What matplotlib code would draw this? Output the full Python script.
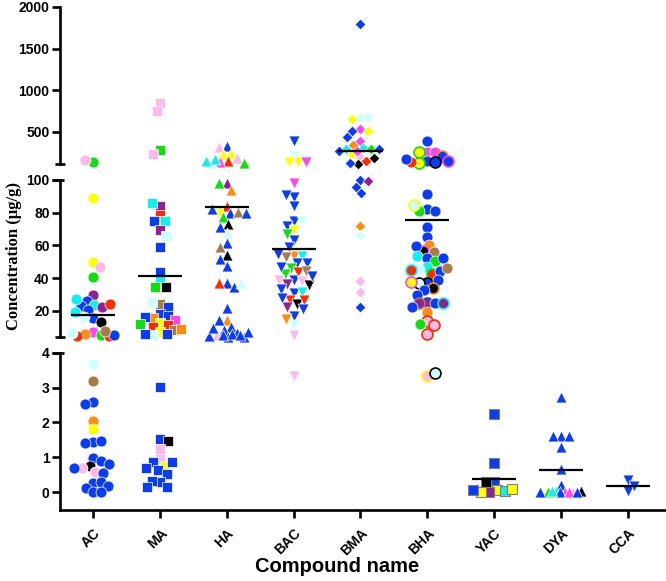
import matplotlib
matplotlib.use('Agg')
import matplotlib.pyplot as plt
from matplotlib.lines import Line2D

W, H = 666, 581
categories = ['AC', 'MA', 'HA', 'BAC', 'BMA', 'BHA', 'YAC', 'DYA', 'CCA']
markers = ['o', 's', '^', 'v', 'D', 'o', 's', '^', 'v']

palette = {'B': '#0A3CF5', 'P': '#FFB8EC', 'M': '#FF45F2', 'G': '#0DE00D',
           'Y': '#FFFF00', 'O': '#FF8C0A', 'N': '#A97B48', 'U': '#8E2290',
           'K': '#000000', 'R': '#FF2A00', 'C': '#10F0F0', 'L': '#CCFFFF'}

ac_values = [141, 165, 89.2, 50, 47, 40.5, 29.7, 26.2, 23.5, 22.3, 23, 24.2, 27, 20.5, 19.4,
             15.6, 13.3, 16.2, 7, 5.8, 5.2, 4.6, 4.8, 5.3, 6.3, 7.5,
             3.67, 3.2, 2.59, 2.53, 2.05, 1.8, 1.43, 1.40, 1.47, 0.97, 0.9, 0.76, 0.7, 0.58,
             0.82, 0.68, 0.55, 0.26, 0.29, 0.13, 0.17, 0.0, 0.0]
ac_colors = ['G', 'P', 'Y', 'Y', 'P', 'G', 'U', 'B', 'C', 'U', 'B', 'R', 'C', 'B', 'C',
             'B', 'K', 'L', 'M', 'O', 'G', 'R', 'R', 'B', 'L', 'N',
             'L', 'N', 'B', 'B', 'O', 'Y', 'B', 'B', 'B', 'B', 'B', 'K', 'P', 'P',
             'B', 'B', 'B', 'B', 'B', 'B', 'B', 'B', 'B']

ma_values = [840, 750, 282, 237, 84.3, 85.7, 78.6, 75.1, 74.7, 69.4, 66, 59.2, 43.9, 38.2,
             34.4, 34.4, 24.2, 25.6, 22.1, 18, 17, 15.4, 14.4, 16, 12.4, 11.3, 12, 10.3,
             8, 7.2, 5.2, 6, 9, 5.5,
             3.02, 1.51, 1.48, 1.25, 0.94, 0.85, 0.75, 0.85, 0.7, 0.63, 0.53, 0.28, 0.32,
             0.15, 0.15]
ma_colors = ['P', 'P', 'G', 'P', 'U', 'C', 'R', 'B', 'C', 'U', 'L', 'B', 'B', 'C',
             'K', 'G', 'N', 'L', 'B', 'B', 'B', 'O', 'M', 'B', 'Y', 'R', 'G', 'R',
             'N', 'Y', 'L', 'B', 'O', 'B',
             'B', 'B', 'K', 'P', 'P', 'B', 'Y', 'B', 'B', 'B', 'B', 'B', 'B', 'B', 'B']

ha_values = [332, 313, 250, 233, 185, 150, 140, 120, 130, 150, 170,
             98, 93.9, 98, 84.1, 81.7, 79.6, 77.2, 80.6, 82, 79.6, 73.1, 71, 67.4, 61.7,
             58.8, 54.1, 51.5, 47.4, 36.8, 34.4, 36.8, 36.8, 21.5, 14.4, 14, 10.3, 8.3,
             6.6, 5.2, 4.2, 4.0, 4.5, 5.2, 7.2, 9.3, 6, 5]
ha_colors = ['B', 'P', 'Y', 'Y', 'P', 'R', 'M', 'L', 'G', 'C', 'C',
             'U', 'O', 'G', 'R', 'Y', 'B', 'G', 'N', 'B', 'B', 'K', 'B', 'L', 'B',
             'N', 'K', 'B', 'B', 'B', 'B', 'R', 'L', 'B', 'O', 'B', 'B', 'B',
             'B', 'P', 'B', 'B', 'B', 'B', 'B', 'B', 'B', 'B']

bac_values = [392, 212, 132, 132, 140,
              98.4, 89.8, 90.8, 84.1, 75.1, 75.1, 71.9, 69.4, 67, 63.3, 59.2, 53.5, 52.7,
              53.5, 54.7, 49, 49.5, 46, 43.9, 42.5, 44.5, 38.8, 38.4, 39, 36.4, 35.8, 31.1,
              31.7, 26.6, 24.2, 26.6, 22.1, 20.9, 16.8, 14.8, 11.3, 5.2, 33, 28, 41, 47,
              3.33]
bac_colors = ['B', 'L', 'Y', 'Y', 'M',
              'M', 'B', 'B', 'B', 'B', 'L', 'B', 'Y', 'G', 'B', 'B', 'O', 'N',
              'C', 'B', 'B', 'B', 'G', 'R', 'G', 'N', 'B', 'P', 'P', 'U', 'K', 'B',
              'C', 'R', 'K', 'R', 'U', 'B', 'B', 'O', 'L', 'P', 'B', 'B', 'B', 'B',
              'P']

bma_values = [1792, 680, 680, 652, 528, 512, 512, 440, 392, 340, 300, 290, 290, 290, 270,
              212, 152, 112, 130, 184, 232, 270,
              100, 95.9, 99.4, 91.9, 72, 66.4, 38.4, 31.5, 22.3]
bma_colors = ['B', 'L', 'L', 'Y', 'M', 'B', 'Y', 'B', 'M', 'O', 'C', 'G', 'C', 'B', 'B',
              'P', 'R', 'K', 'B', 'K', 'Y', 'M',
              'B', 'B', 'U', 'B', 'O', 'L', 'P', 'P', 'B']

bha_values = [392, 260, 260, 252, 212, 150, 132, 120, 135, 150, 172,
              91.2, 82.5, 81, 81, 84.7, 71, 65, 60.2, 56.8, 56.1, 59.6, 53.4, 52.5, 50.6,
              52, 46.6, 45.5, 42.5, 44, 45, 46, 37.2, 37.2, 39, 37.4, 33.8, 32.7, 29.7,
              24.6, 24.8, 24.5, 24.5, 22, 19.5, 13.8, 11.3, 5.8, 11.7,
              3.34, 3.43]
bha_colors = ['B', 'M', 'M', 'Y', 'B', 'B', 'B', 'Y', 'R', 'B', 'B',
              'B', 'B', 'G', 'B', 'L', 'B', 'B', 'O', 'K', 'N', 'B', 'C', 'B', 'G',
              'B', 'C', 'L', 'R', 'B', 'R', 'N', 'B', 'L', 'B', 'Y', 'K', 'B', 'B',
              'U', 'B', 'U', 'U', 'B', 'O', 'P', 'P', 'P', 'G',
              'P', 'L']
bha_edges = ['w', 'w', 'w', 'G', 'O', 'w', 'K', 'G', 'w', 'M', 'w',
             'w', 'w', 'w', 'w', 'Y', 'w', 'w', 'w', 'M', 'w', 'w', 'w', 'w', 'w',
             'w', 'w', 'w', 'G', 'w', 'C', 'w', 'K', 'K', 'w', 'M', 'O', 'w', 'w',
             'B', 'w', 'N', 'C', 'w', 'w', 'R', 'R', 'R', 'w',
             'Y', 'K']

yac_values = [2.24, 0.84, 0.29, 0.29, 0.07, 0.0, 0.02, 0.0, 0.1, 0.05]
yac_colors = ['B', 'B', 'B', 'K', 'Y', 'U', 'C', 'Y', 'Y', 'B']

dya_values = [2.73, 1.6, 1.6, 1.62, 1.3, 0.65, 0.2, 0.02, 0.0, 0.01, 0.0, 0.02, 0.0, 0.01,
              0.0, 0.02, 0.0]
dya_colors = ['B', 'B', 'B', 'B', 'B', 'B', 'B', 'C', 'M', 'P', 'G', 'K', 'B', 'B', 'M',
              'C', 'B']

cca_values = [0.36, 0.03, 0.17]
cca_colors = ['B', 'B', 'B']

means = [17.5, 41.3, 83.3, 57.8, 272, 75.5, 0.38, 0.63, 0.17]

all_values = [ac_values, ma_values, ha_values, bac_values, bma_values, bha_values,
              yac_values, dya_values, cca_values]
all_colors = [ac_colors, ma_colors, ha_colors, bac_colors, bma_colors, bha_colors,
              yac_colors, dya_colors, cca_colors]
all_edges = [None, None, None, None, None, bha_edges, None, None, None]

top_ticks = [500, 1000, 1500, 2000]
mid_ticks = [20, 40, 60, 80, 100]
bot_ticks = [0, 1, 2, 3, 4]

# ---------------- layout ----------------
fig = plt.figure(figsize=(W / 100, H / 100), dpi=100)
X0, X1 = 60, 666
def add_ax(ytop, ybot):
    return fig.add_axes([X0 / W, 1 - ybot / H, (X1 - X0) / W, (ybot - ytop) / H])

ax_top = add_ax(7, 164)
ax_mid = add_ax(180, 337)
ax_bot = add_ax(352.7, 509.5)
ax_top.set_ylim(112, 2000)
ax_mid.set_ylim(3.9, 100)
ax_bot.set_ylim(-0.5, 4)
xl = (-(93.3 - X0) / 66.8, (X1 - 93.3) / 66.8)
lw = 1.9
tickfont = {'family': 'Liberation Sans', 'weight': 'bold', 'size': 10}
for ax, ticks in [(ax_top, top_ticks), (ax_mid, mid_ticks), (ax_bot, bot_ticks)]:
    ax.set_xlim(*xl)
    ax.patch.set_alpha(0)
    for s in ['top', 'right', 'bottom']:
        ax.spines[s].set_visible(False)
    ax.spines['left'].set_linewidth(lw)
    ax.set_yticks(ticks)
    ax.set_yticklabels([str(t) for t in ticks], fontdict=tickfont)
    ax.tick_params(axis='y', length=6, width=lw, pad=1.5)
    ax.tick_params(axis='x', bottom=False, labelbottom=False)

ax_bot.spines['bottom'].set_visible(True)
ax_bot.spines['bottom'].set_linewidth(lw)
ax_bot.set_xticks(range(len(categories)))
ax_bot.set_xticklabels(categories, rotation=45, ha='right', va='top',
                       rotation_mode='anchor', fontdict=tickfont)
ax_bot.tick_params(axis='x', bottom=True, labelbottom=True, length=6, width=lw, pad=6)

# caps at the axis breaks
for (xa, xb, y) in [(55, 65, 164), (52, 64, 180), (55, 65, 337), (52, 64, 352.7)]:
    fig.add_artist(Line2D([xa / W, xb / W], [1 - y / H, 1 - y / H], transform=fig.transFigure,
                          color='k', lw=lw, solid_capstyle='butt'))

def seg_ax(v):
    if v >= 112:
        return ax_top
    if v >= 3.9:
        return ax_mid
    return ax_bot

def swarm(px_y, d=8.0, step=0.5, maxoff=21):
    placed, offs = [], []
    for k, y in enumerate(px_y):
        sign = 1 if k % 2 == 0 else -1
        cands = [0.0]
        for j in range(1, int(maxoff / step) + 1):
            cands += [sign * j * step, -sign * j * step]
        chosen, best = None, -1
        for c in cands:
            md = min([((c - px) ** 2 + (y - py) ** 2) ** 0.5 for px, py in placed] + [99])
            if md >= d:
                chosen = c
                break
            if md > best + 0.3:
                best, bestc = md, c
        if chosen is None:
            chosen = bestc
        placed.append((chosen, y))
        offs.append(chosen)
    return offs

msize = {'o': 62, 's': 52, '^': 62, 'v': 62, 'D': 30}
px_per_unit = (X1 - X0) / (xl[1] - xl[0])

for i, cat in enumerate(categories):
    vals = all_values[i]
    cols = all_colors[i]
    edges = all_edges[i]
    axs = [seg_ax(v) for v in vals]
    py = [a.transData.transform((i, v))[1] for a, v in zip(axs, vals)]
    offs = swarm(py)
    m = markers[i]
    for k, v in enumerate(vals):
        ec = '#FFFFFF'
        elw = 0.5
        if edges is not None and edges[k] != 'w':
            ec = palette[edges[k]]
            elw = 1.2
        if cat == 'YAC':
            ec = '#808080'
            elw = 0.8
        axs[k].scatter([i + offs[k] / px_per_unit], [v], marker=m, s=msize[m],
                       c=palette[cols[k]], edgecolors=ec, linewidths=elw,
                       clip_on=False, zorder=3)
    ma = seg_ax(means[i])
    ma.plot([i - 0.33, i + 0.33], [means[i], means[i]], color='k', lw=1.6,
            zorder=4, clip_on=False, solid_capstyle='butt')

fig.text(14 / W, 1 - 256 / H, 'Concentration (µg/g)', rotation=90, ha='center',
         va='center', family='Liberation Serif', weight='bold', size=12)
fig.text(337 / W, 1 - 567 / H, 'Compound name', ha='center', va='center',
         family='Liberation Sans', weight='bold', size=14.5)

fig.savefig('out.png', dpi=100)
